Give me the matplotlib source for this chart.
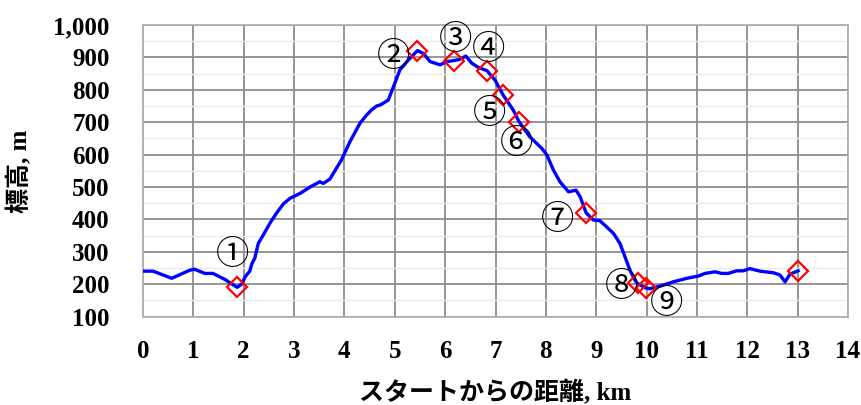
import matplotlib
matplotlib.use("Agg")
import matplotlib.pyplot as plt
from matplotlib.ticker import MultipleLocator, FuncFormatter

dist = [0.0, 0.2, 0.57, 0.93, 1.02, 1.23, 1.39, 1.62, 1.87, 1.96, 2.03, 2.12, 2.16, 2.22, 2.29,
        2.39, 2.52, 2.65, 2.79, 2.92, 3.12, 3.32, 3.51, 3.58, 3.71, 3.78, 3.94, 4.11, 4.31, 4.44,
        4.54, 4.64, 4.71, 4.87, 5.00, 5.10, 5.27, 5.45, 5.57, 5.70, 5.90, 6.03, 6.17, 6.29, 6.41,
        6.53, 6.66, 6.83, 6.99, 7.15, 7.35, 7.47, 7.68, 7.92, 8.02, 8.15, 8.28, 8.45, 8.60, 8.68,
        8.80, 8.94, 9.07, 9.17, 9.34, 9.47, 9.57, 9.67, 9.77, 9.82, 9.98, 10.07, 10.27, 10.53,
        10.80, 11.03, 11.16, 11.36, 11.49, 11.62, 11.79, 11.92, 12.05, 12.25, 12.52, 12.65,
        12.75, 12.85, 13.01]
elev = [240, 240, 218, 243, 246, 233, 233, 215, 190, 200, 223, 240, 262, 280, 326,
        352, 388, 419, 448, 465, 480, 500, 516, 511, 524, 542, 583, 640, 697, 722,
        738, 750, 753, 768, 820, 861, 892, 921, 912, 887, 877, 887, 890, 894, 904,
        882, 869, 859, 830, 784, 738, 701, 655, 619, 599, 552, 516, 485, 490, 470,
        420, 398, 396, 382, 357, 326, 285, 243, 212, 202, 188, 186, 194, 207,
        218, 225, 233, 238, 233, 233, 241, 241, 248, 240, 235, 228,
        207, 231, 241]

marker_x = [1.87, 5.45, 6.17, 6.83, 7.15, 7.47, 8.80, 9.82, 9.98, 13.01]
marker_y = [190, 921, 890, 859, 784, 701, 420, 202, 188, 241]

label_text = ["①", "②", "③", "④", "⑤", "⑥", "⑦", "⑧", "⑨"]
label_x = [1.77, 4.97, 6.21, 6.86, 6.89, 7.41, 8.23, 9.51, 10.39]
label_y = [290, 902, 954, 923, 727, 633, 398, 192, 139]

x_ticks = list(range(0, 15))
y_ticks = list(range(100, 1001, 100))

xlabel = "スタートからの距離, km"
ylabel = "標高, m"

fam = ["Liberation Serif", "Noto Sans CJK JP"]

fig = plt.figure(figsize=(8.61, 4.05), dpi=100)
ax = fig.add_axes([143 / 861, 1 - 316.5 / 405, (848 - 143) / 861, (316.5 - 25) / 405])

ax.set_xlim(0, 14)
ax.set_ylim(100, 1000)
ax.set_xticks(x_ticks)
ax.set_yticks(y_ticks)
ax.yaxis.set_minor_locator(MultipleLocator(50))
ax.yaxis.set_major_formatter(FuncFormatter(lambda v, p: f"{int(v):,}"))

ax.grid(True, which="major", color="#8c8c8c", linewidth=1.3, zorder=0)
ax.grid(True, which="minor", axis="y", color="#ececec", linewidth=1.0, zorder=0)
ax.set_axisbelow(True)
for s in ax.spines.values():
    s.set_color("#b0b0b0")
    s.set_linewidth(1.3)

ax.tick_params(which="both", length=0)
ax.tick_params(axis="x", pad=17)
ax.tick_params(axis="y", pad=24)
for lbl in ax.get_xticklabels() + ax.get_yticklabels():
    lbl.set_fontfamily(fam)
    lbl.set_fontsize(18)
    lbl.set_fontweight("bold")

ax.plot(dist, elev, color="#0000ff", linewidth=2.4, zorder=3)
ax.plot(marker_x, marker_y, linestyle="none", marker="D", markersize=10,
        markerfacecolor="none", markeredgecolor="#ff0000", markeredgewidth=1.6, zorder=4)

for t, x, y in zip(label_text, label_x, label_y):
    ax.text(x, y, t, ha="center", va="center", fontsize=24,
            family=["Noto Sans CJK JP", "DejaVu Sans"], color="black", zorder=5)

fig.text(495 / 861, 1 - 392 / 405, xlabel, ha="center", va="center", fontsize=18,
         fontweight="bold", family=fam)
fig.text(20 / 861, 1 - 171 / 405, ylabel, ha="center", va="center", fontsize=18,
         fontweight="bold", family=fam, rotation=90)

fig.savefig("out.png", dpi=100)
